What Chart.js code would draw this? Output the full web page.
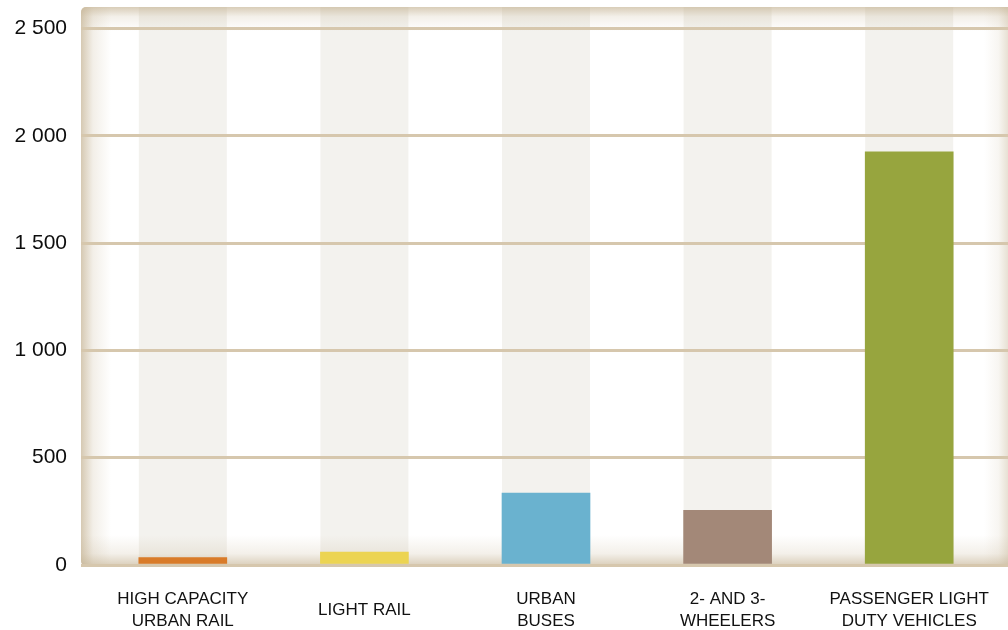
<!DOCTYPE html>
<html>
<head>
<meta charset="utf-8">
<script src="https://cdn.jsdelivr.net/npm/chart.js@4/dist/chart.umd.min.js"></script>
<style>
  html, body { margin: 0; padding: 0; background: #fff; }
  #wrap { width: 1008px; height: 630px; position: relative; }
</style>
</head>
<body>
<div id="wrap"><canvas id="chart"></canvas></div>
<script>
// categories and values
const CATEGORIES = [
  ['HIGH CAPACITY', 'URBAN RAIL'],
  ['LIGHT RAIL'],
  ['URBAN', 'BUSES'],
  ['2- AND 3-', 'WHEELERS'],
  ['PASSENGER LIGHT', 'DUTY VEHICLES'],
];
const VALUES = [35, 60, 335, 255, 1925];
const BAR_COLORS = ['#d97b29', '#ecd452', '#6ab2cf', '#a38878', '#97a53e'];
const Y_TICKS = [0, 500, 1000, 1500, 2000, 2500];
const Y_LABELS = ['0', '500', '1 000', '1 500', '2 000', '2 500'];

const FRAME = { left: 81, top: 7, right: 1008, bottom: 565 };

// white panel, grey column bands and the soft beige edge shading
const panelPlugin = {
  id: 'panel',
  beforeDraw(chart) {
    const { ctx, chartArea: a, scales } = chart;
    const w = a.right - a.left, h = a.bottom - a.top;
    ctx.save();
    ctx.beginPath();
    ctx.roundRect(a.left, a.top, w + 6, h + 1, 5);
    ctx.clip();
    ctx.fillStyle = '#ffffff';
    ctx.fillRect(a.left, a.top, w + 6, h + 1);

    ctx.fillStyle = '#f3f2ee';
    VALUES.forEach((v, i) => {
      const cx = scales.x.getPixelForValue(i);
      ctx.fillRect(cx - 44, a.top, 88, h);
    });

    const tint = (x0, y0, x1, y1, a0) => {
      const g = ctx.createLinearGradient(x0, y0, x1, y1);
      g.addColorStop(0, `rgba(196,178,146,${a0})`);
      g.addColorStop(0.4, `rgba(196,178,146,${a0 * 0.3})`);
      g.addColorStop(1, 'rgba(196,178,146,0)');
      return g;
    };
    ctx.fillStyle = tint(a.left, 0, a.left + 30, 0, 0.7);
    ctx.fillRect(a.left, a.top, 30, h + 1);
    ctx.fillStyle = tint(0, a.top, 0, a.top + 24, 0.65);
    ctx.fillRect(a.left, a.top, w, 24);
    ctx.fillStyle = tint(0, a.bottom + 1, 0, a.bottom - 30, 0.65);
    ctx.fillRect(a.left, a.bottom - 30, w, 31);
    ctx.fillStyle = tint(a.right, 0, a.right - 24, 0, 0.4);
    ctx.fillRect(a.right - 24, a.top, 24, h + 1);
    ctx.restore();
  }
};

const labelFont = '"Liberation Sans", Arial, sans-serif';

new Chart(document.getElementById('chart'), {
  type: 'bar',
  data: {
    datasets: [{
      data: VALUES.map((v, i) => ({ x: i, y: v })),
      backgroundColor: BAR_COLORS,
      borderWidth: 0,
      barThickness: 88,
    }],
  },
  options: {
    responsive: true,
    maintainAspectRatio: false,
    animation: false,
    layout: { padding: { top: FRAME.top, left: 0, right: 0, bottom: 0 } },
    plugins: {
      legend: { display: false },
      tooltip: { enabled: false },
    },
    scales: {
      x: {
        type: 'linear',
        offset: false,
        min: -0.5606,
        max: 4.544,
        border: { display: false },
        grid: { display: false, drawTicks: false, offset: false },
        afterBuildTicks: s => { s.ticks = CATEGORIES.map((c, i) => ({ value: i })); },
        afterFit: s => {
          s.height = 630 - FRAME.bottom;
          s.paddingLeft = 0; s.paddingRight = 0;
        },
        ticks: {
          autoSkip: false,
          maxRotation: 0,
          padding: 34,
          crossAlign: 'center',
          color: '#111111',
          font: { family: labelFont, size: 17, lineHeight: 1.3 },
          callback: v => CATEGORIES[v],
        },
      },
      y: {
        min: 0,
        max: 2600,
        border: { display: false },
        afterBuildTicks: s => { s.ticks = Y_TICKS.map(v => ({ value: v })); },
        afterFit: s => {
          s.width = FRAME.left;
          s.paddingTop = 0; s.paddingBottom = 0;
        },
        grid: { color: '#d6c7ad', lineWidth: 3, drawTicks: false },
        ticks: {
          padding: 14,
          color: '#0d0d0d',
          font: { family: labelFont, size: 21 },
          callback: v => Y_LABELS[Y_TICKS.indexOf(v)],
        },
      },
    },
  },
  plugins: [panelPlugin],
});
</script>
</body>
</html>
